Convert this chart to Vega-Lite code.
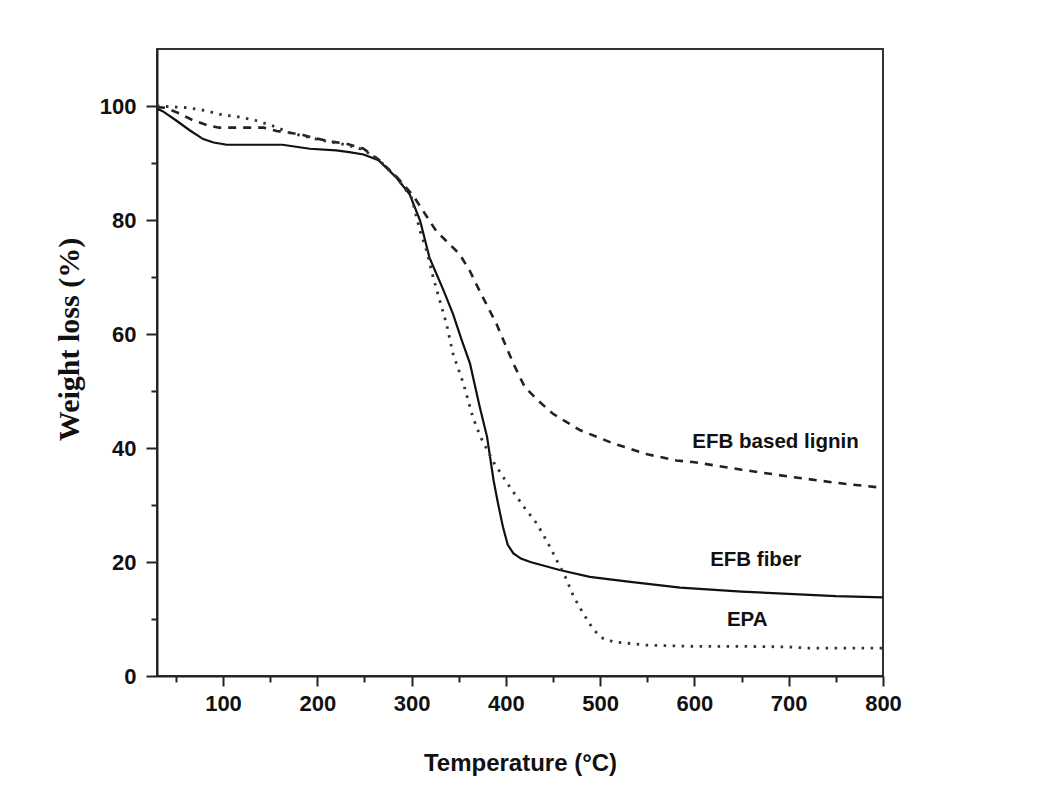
{
  "$schema": "https://vega.github.io/schema/vega-lite/v6.json",
  "width": 726,
  "height": 627,
  "autosize": {"type": "none"},
  "padding": {"left": 157, "top": 49, "right": 170, "bottom": 117},
  "background": "white",
  "config": {
    "view": {"stroke": "#333", "strokeWidth": 2},
    "axis": {
      "grid": false,
      "domainColor": "#222",
      "domainWidth": 2,
      "tickColor": "#222",
      "tickWidth": 2,
      "labelFont": "Liberation Sans",
      "labelFontWeight": "bold",
      "labelFontSize": 22,
      "labelColor": "#111",
      "labelFlush": false,
      "labelOverlap": false,
      "labelBound": false,
      "titleColor": "#111",
      "titleFontWeight": "bold"
    }
  },
  "datasets": {
    "curves": [
      {"s": "EFB fiber", "t": 30, "w": 99.5},
      {"s": "EFB fiber", "t": 36, "w": 99.1},
      {"s": "EFB fiber", "t": 50, "w": 97.5},
      {"s": "EFB fiber", "t": 65, "w": 95.7},
      {"s": "EFB fiber", "t": 79, "w": 94.2},
      {"s": "EFB fiber", "t": 90, "w": 93.6},
      {"s": "EFB fiber", "t": 104, "w": 93.2},
      {"s": "EFB fiber", "t": 130, "w": 93.2},
      {"s": "EFB fiber", "t": 163, "w": 93.2},
      {"s": "EFB fiber", "t": 192, "w": 92.5},
      {"s": "EFB fiber", "t": 220, "w": 92.2},
      {"s": "EFB fiber", "t": 234, "w": 91.9},
      {"s": "EFB fiber", "t": 249, "w": 91.5},
      {"s": "EFB fiber", "t": 265, "w": 90.5},
      {"s": "EFB fiber", "t": 284, "w": 87.4},
      {"s": "EFB fiber", "t": 298, "w": 84.5},
      {"s": "EFB fiber", "t": 309, "w": 79.9},
      {"s": "EFB fiber", "t": 319, "w": 73.4},
      {"s": "EFB fiber", "t": 334, "w": 67.6},
      {"s": "EFB fiber", "t": 344, "w": 63.5},
      {"s": "EFB fiber", "t": 353, "w": 59.0},
      {"s": "EFB fiber", "t": 362, "w": 54.8},
      {"s": "EFB fiber", "t": 372, "w": 47.4},
      {"s": "EFB fiber", "t": 380, "w": 42.0},
      {"s": "EFB fiber", "t": 387, "w": 34.3},
      {"s": "EFB fiber", "t": 392, "w": 30.0},
      {"s": "EFB fiber", "t": 397, "w": 26.1},
      {"s": "EFB fiber", "t": 402, "w": 23.0},
      {"s": "EFB fiber", "t": 408, "w": 21.5},
      {"s": "EFB fiber", "t": 416, "w": 20.6},
      {"s": "EFB fiber", "t": 426, "w": 20.0},
      {"s": "EFB fiber", "t": 457, "w": 18.6},
      {"s": "EFB fiber", "t": 489, "w": 17.4},
      {"s": "EFB fiber", "t": 532, "w": 16.5},
      {"s": "EFB fiber", "t": 585, "w": 15.5},
      {"s": "EFB fiber", "t": 650, "w": 14.8},
      {"s": "EFB fiber", "t": 700, "w": 14.4},
      {"s": "EFB fiber", "t": 750, "w": 14.0},
      {"s": "EFB fiber", "t": 800, "w": 13.8},
      {"s": "EFB based lignin", "t": 30, "w": 99.8},
      {"s": "EFB based lignin", "t": 38, "w": 99.7},
      {"s": "EFB based lignin", "t": 54, "w": 98.7},
      {"s": "EFB based lignin", "t": 68, "w": 97.5},
      {"s": "EFB based lignin", "t": 84, "w": 96.6},
      {"s": "EFB based lignin", "t": 96, "w": 96.2},
      {"s": "EFB based lignin", "t": 143, "w": 96.2},
      {"s": "EFB based lignin", "t": 157, "w": 95.6},
      {"s": "EFB based lignin", "t": 171, "w": 95.3},
      {"s": "EFB based lignin", "t": 185, "w": 94.9},
      {"s": "EFB based lignin", "t": 199, "w": 94.3},
      {"s": "EFB based lignin", "t": 217, "w": 93.7},
      {"s": "EFB based lignin", "t": 231, "w": 93.4},
      {"s": "EFB based lignin", "t": 249, "w": 92.5},
      {"s": "EFB based lignin", "t": 265, "w": 90.6},
      {"s": "EFB based lignin", "t": 284, "w": 87.6},
      {"s": "EFB based lignin", "t": 302, "w": 84.2},
      {"s": "EFB based lignin", "t": 326, "w": 78.1},
      {"s": "EFB based lignin", "t": 351, "w": 74.0},
      {"s": "EFB based lignin", "t": 362, "w": 71.0},
      {"s": "EFB based lignin", "t": 372, "w": 67.6},
      {"s": "EFB based lignin", "t": 390, "w": 61.8},
      {"s": "EFB based lignin", "t": 408, "w": 54.8},
      {"s": "EFB based lignin", "t": 420, "w": 50.7},
      {"s": "EFB based lignin", "t": 435, "w": 48.2},
      {"s": "EFB based lignin", "t": 450, "w": 46.0},
      {"s": "EFB based lignin", "t": 479, "w": 43.1},
      {"s": "EFB based lignin", "t": 514, "w": 40.8},
      {"s": "EFB based lignin", "t": 550, "w": 38.9},
      {"s": "EFB based lignin", "t": 581, "w": 37.8},
      {"s": "EFB based lignin", "t": 600, "w": 37.5},
      {"s": "EFB based lignin", "t": 650, "w": 36.2},
      {"s": "EFB based lignin", "t": 700, "w": 35.0},
      {"s": "EFB based lignin", "t": 750, "w": 33.9},
      {"s": "EFB based lignin", "t": 800, "w": 33.0},
      {"s": "EPA", "t": 30, "w": 100.0},
      {"s": "EPA", "t": 63, "w": 99.7},
      {"s": "EPA", "t": 81, "w": 99.2},
      {"s": "EPA", "t": 98, "w": 98.5},
      {"s": "EPA", "t": 116, "w": 98.1},
      {"s": "EPA", "t": 134, "w": 97.5},
      {"s": "EPA", "t": 153, "w": 96.5},
      {"s": "EPA", "t": 171, "w": 95.3},
      {"s": "EPA", "t": 199, "w": 94.2},
      {"s": "EPA", "t": 217, "w": 93.6},
      {"s": "EPA", "t": 231, "w": 93.2},
      {"s": "EPA", "t": 249, "w": 92.3},
      {"s": "EPA", "t": 265, "w": 90.6},
      {"s": "EPA", "t": 284, "w": 87.5},
      {"s": "EPA", "t": 300, "w": 83.9},
      {"s": "EPA", "t": 309, "w": 78.1},
      {"s": "EPA", "t": 316, "w": 74.6},
      {"s": "EPA", "t": 323, "w": 69.9},
      {"s": "EPA", "t": 330, "w": 65.8},
      {"s": "EPA", "t": 337, "w": 61.8},
      {"s": "EPA", "t": 344, "w": 56.5},
      {"s": "EPA", "t": 355, "w": 51.3},
      {"s": "EPA", "t": 365, "w": 45.4},
      {"s": "EPA", "t": 373, "w": 42.0},
      {"s": "EPA", "t": 387, "w": 37.5},
      {"s": "EPA", "t": 404, "w": 33.2},
      {"s": "EPA", "t": 419, "w": 29.7},
      {"s": "EPA", "t": 433, "w": 26.7},
      {"s": "EPA", "t": 445, "w": 23.2},
      {"s": "EPA", "t": 454, "w": 20.3},
      {"s": "EPA", "t": 463, "w": 17.4},
      {"s": "EPA", "t": 472, "w": 13.9},
      {"s": "EPA", "t": 482, "w": 11.0},
      {"s": "EPA", "t": 493, "w": 8.1},
      {"s": "EPA", "t": 503, "w": 6.6},
      {"s": "EPA", "t": 514, "w": 6.0},
      {"s": "EPA", "t": 550, "w": 5.4},
      {"s": "EPA", "t": 600, "w": 5.2},
      {"s": "EPA", "t": 650, "w": 5.2},
      {"s": "EPA", "t": 700, "w": 5.1},
      {"s": "EPA", "t": 720, "w": 4.9},
      {"s": "EPA", "t": 800, "w": 4.9}
    ],
    "labels": [
      {"label": "EFB based lignin", "t": 686, "w": 41.1},
      {"label": "EFB fiber", "t": 665, "w": 20.4},
      {"label": "EPA", "t": 656, "w": 9.8}
    ]
  },
  "encoding": {
    "x": {
      "field": "t",
      "type": "quantitative",
      "scale": {"domain": [30, 800], "nice": false, "zero": false},
      "axis": {
        "title": "Temperature (°C)",
        "titleFont": "Liberation Sans",
        "titleFontSize": 24,
        "titlePadding": 37,
        "values": [50, 100, 150, 200, 250, 300, 350, 400, 450, 500, 550, 600, 650, 700, 750, 800],
        "labelExpr": "datum.value % 100 === 0 ? datum.label : ''",
        "tickSize": {"condition": {"test": "datum.value % 100 === 0", "value": 10}, "value": 6},
        "labelPadding": 7
      }
    },
    "y": {
      "field": "w",
      "type": "quantitative",
      "scale": {"domain": [0, 110], "nice": false},
      "axis": {
        "title": "Weight loss (%)",
        "titleFont": "Liberation Serif",
        "titleFontSize": 30,
        "titlePadding": 15,
        "titleY": 290,
        "values": [0, 10, 20, 30, 40, 50, 60, 70, 80, 90, 100],
        "labelExpr": "datum.value % 20 === 0 ? datum.label : ''",
        "tickSize": {"condition": {"test": "datum.value % 20 === 0", "value": 11}, "value": 6},
        "labelPadding": 10
      }
    }
  },
  "layer": [
    {
      "data": {"name": "curves"},
      "transform": [{"filter": "datum.s === 'EFB fiber'"}],
      "mark": {"type": "line", "color": "#111", "strokeWidth": 2.2}
    },
    {
      "data": {"name": "curves"},
      "transform": [{"filter": "datum.s === 'EFB based lignin'"}],
      "mark": {"type": "line", "color": "#222", "strokeWidth": 2.6, "strokeDash": [8, 7]}
    },
    {
      "data": {"name": "curves"},
      "transform": [{"filter": "datum.s === 'EPA'"}],
      "mark": {"type": "line", "color": "#333", "strokeWidth": 2.8, "strokeDash": [2.5, 6.5]}
    },
    {
      "data": {"name": "labels"},
      "mark": {"type": "text", "font": "Liberation Sans", "fontWeight": "bold", "fontSize": 20.5, "color": "#111", "align": "center", "baseline": "middle"},
      "encoding": {"text": {"field": "label"}}
    }
  ]
}
